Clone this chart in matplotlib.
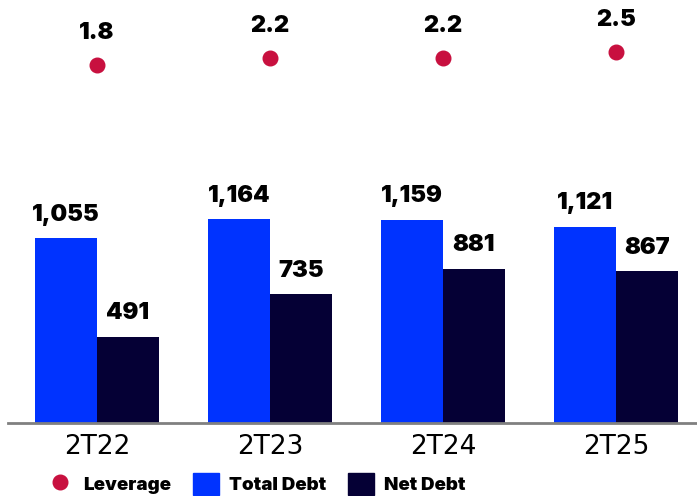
import matplotlib
matplotlib.use("Agg")
import matplotlib.pyplot as plt
from matplotlib.lines import Line2D
from matplotlib.patches import Patch
import numpy as np

# quarterly debt figures
periods = ["2T22", "2T23", "2T24", "2T25"]
total_debt = [1055, 1164, 1159, 1121]
net_debt = [491, 735, 881, 867]
leverage = [1.8, 2.2, 2.2, 2.5]

c_total = "#0033FF"
c_net = "#050035"
c_lev = "#C8103F"
bold_font = "Inter"
heavy = "black"

fig = plt.figure(figsize=(6.97, 4.96), dpi=100)
W, H = 697, 496
ax = fig.add_axes([8 / W, (H - 423) / H, 1 - 8 / W, 423 / H])

x = np.arange(len(periods))
w = 0.358
b1 = ax.bar(x - w / 2, total_debt, w, color=c_total)
b2 = ax.bar(x + w / 2, net_debt, w, color=c_net)
ax.set_xlim(-0.514, 3.468)
ax.set_ylim(0, 2414)

for bars in (b1, b2):
    for r in bars:
        ax.annotate(f"{r.get_height():,.0f}", (r.get_x() + r.get_width() / 2, r.get_height()),
                    xytext=(0, 9), textcoords="offset points", ha="center", va="bottom",
                    fontsize=17, fontweight=heavy, family=bold_font)

for s in ("top", "right", "left"):
    ax.spines[s].set_visible(False)
ax.spines["bottom"].set_color("#808080")
ax.spines["bottom"].set_linewidth(2)
ax.set_yticks([])
ax.set_xticks(x)
ax.set_xticklabels(periods, family="Liberation Sans Narrow", fontsize=19)
ax.tick_params(axis="x", length=0, pad=8)

# leverage on its own scale
ax2 = ax.twinx()
ax2.set_ylim(-17.45, 5.30)
ax2.axis("off")
ax2.plot(x, leverage, "o", color=c_lev, markersize=10.5, linestyle="none")
for xi, v in zip(x, leverage):
    ax2.annotate(f"{v:.1f}", (xi, v), xytext=(0, 15), textcoords="offset points",
                 ha="center", va="bottom", fontsize=17, fontweight=heavy, family=bold_font)

handles = [
    Line2D([], [], marker="o", color=c_lev, linestyle="none", markersize=10.5),
    Patch(color=c_total),
    Patch(color=c_net),
]
fig.legend(handles, ["Leverage", "Total Debt", "Net Debt"], loc="center left",
           bbox_to_anchor=(47 / W, 1 - 484 / H), ncol=3, frameon=False,
           borderpad=0, borderaxespad=0,
           prop={"family": bold_font, "weight": heavy, "size": 13.5},
           handlelength=1.39, handleheight=1.39, handletextpad=0.55, columnspacing=1.15)

fig.savefig("out.png", dpi=100)
